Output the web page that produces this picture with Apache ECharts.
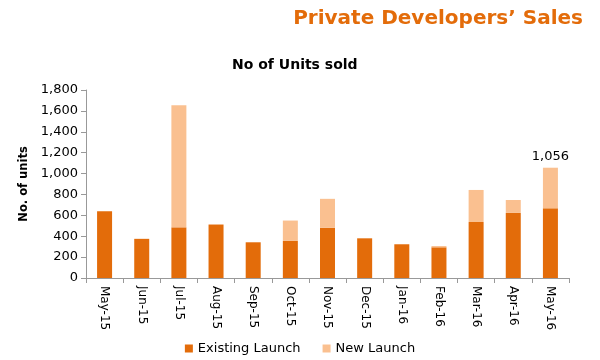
<!DOCTYPE html>
<html><head><meta charset="utf-8">
<script src="https://cdn.jsdelivr.net/npm/echarts@6/dist/echarts.min.js"></script>
<style>html,body{margin:0;padding:0;background:#fff}#c{width:600px;height:360px}</style>
</head><body><div id="c"></div>
<script>
const categories = ['May-15','Jun-15','Jul-15','Aug-15','Sep-15','Oct-15','Nov-15','Dec-15','Jan-16','Feb-16','Mar-16','Apr-16','May-16'];
const existingLaunch = [640, 375, 485, 512, 342, 355, 480, 380, 323, 294, 536, 623, 667];
const newLaunch = [0, 0, 1170, 0, 0, 195, 278, 0, 0, 12, 307, 124, 389];
const yTicks = [0, 200, 400, 600, 800, 1000, 1200, 1400, 1600, 1800];

const FONT = 'DejaVu Sans';
const chart = echarts.init(document.getElementById('c'));
chart.setOption({
  animation: false,
  textStyle: {fontFamily: FONT},
  title: [
    {text: 'Private Developers\u2019 Sales', right: 12, top: 4,
     textStyle: {color: '#E36C0A', fontSize: 20, fontWeight: 'bold', fontFamily: FONT}},
    {text: 'No of Units sold', left: 227, top: 53,
     textStyle: {color: '#000', fontSize: 14, fontWeight: 'bold', fontFamily: FONT}}
  ],
  legend: {
    bottom: 0, left: 'center', itemWidth: 8, itemHeight: 8, itemGap: 22,
    textStyle: {fontSize: 13, color: '#000', fontFamily: FONT},
    data: [{name: 'Existing Launch', icon: 'rect'}, {name: 'New Launch', icon: 'rect'}]
  },
  grid: {left: 86, right: 31, top: 90, bottom: 82, containLabel: false},
  xAxis: {
    type: 'category', data: categories,
    axisLine: {lineStyle: {color: '#999'}},
    axisTick: {show: true, alignWithLabel: false, lineStyle: {color: '#999'}},
    axisLabel: {rotate: -90, color: '#000', fontSize: 12, margin: 8, interval: 0}
  },
  yAxis: {
    type: 'value', min: yTicks[0], max: yTicks[yTicks.length - 1], interval: 200,
    name: 'No. of units', nameLocation: 'middle', nameGap: 56,
    nameTextStyle: {fontWeight: 'bold', fontSize: 11.5, color: '#000'},
    splitLine: {show: false},
    axisLine: {show: true, lineStyle: {color: '#999'}},
    axisTick: {show: true, lineStyle: {color: '#999'}},
    axisLabel: {color: '#000', fontSize: 13,
      formatter: v => v.toLocaleString('en-US')}
  },
  series: [
    {name: 'Existing Launch', type: 'bar', stack: 's', barWidth: 15,
     itemStyle: {color: '#E36C0A'}, data: existingLaunch},
    {name: 'New Launch', type: 'bar', stack: 's', barWidth: 15,
     itemStyle: {color: '#FAC090'}, data: newLaunch,
     label: {show: true, position: 'top', color: '#000', fontSize: 13,
       formatter: p => p.dataIndex === categories.length - 1
         ? (existingLaunch[p.dataIndex] + newLaunch[p.dataIndex]).toLocaleString('en-US') : ''}}
  ]
});
</script></body></html>
